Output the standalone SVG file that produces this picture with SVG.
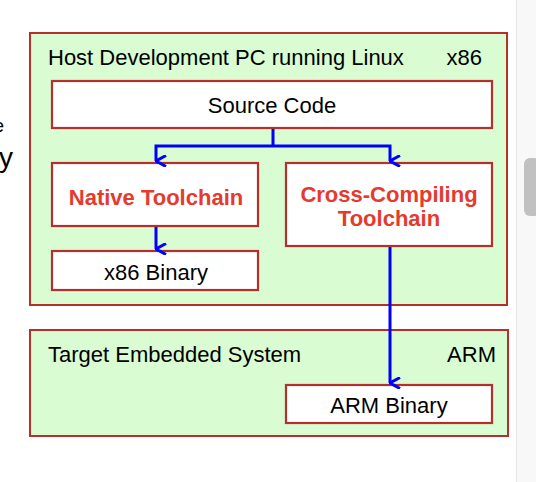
<svg xmlns="http://www.w3.org/2000/svg" width="536" height="482" viewBox="0 0 536 482">
<defs>
<style>
.grp{fill:#d9fcd2;stroke:#b5302a;stroke-width:2}
.box{fill:#ffffff;stroke:#b5302a;stroke-width:2.2}
.t{font-family:"Liberation Sans",Arial,sans-serif;font-size:22px;fill:#000}
.r{font-family:"Liberation Sans",Arial,sans-serif;font-size:22px;font-weight:bold;fill:#e53a2e}
.c{fill:none;stroke:#0000ff;stroke-width:3}
</style>
<marker id="ah" viewBox="0 0 12 12" refX="6" refY="11" markerWidth="12" markerHeight="12" markerUnits="userSpaceOnUse" orient="auto-start-reverse">
<path d="M0.5,1 L6,11 L11.5,1" fill="none" stroke="#0000ff" stroke-width="3"/>
</marker>
</defs>
<rect x="0" y="0" width="536" height="482" fill="#ffffff"/>
<g id="page-scrollbar">
<rect x="516.5" y="0" width="20" height="482" fill="#f8f8f8"/>
<line x1="516.5" y1="0" x2="516.5" y2="482" stroke="#e6e6e6" stroke-width="1"/>
<rect x="524" y="158" width="16" height="58" rx="6" fill="#c1c1c1"/>
</g>
<g id="left-text">
<text class="t" x="-6.5" y="132" style="font-size:19px">e</text>
<text class="t" x="-1" y="167" style="font-size:28px">y</text>
</g>
<g id="host">
<rect class="grp" x="30" y="33" width="477" height="272"/>
<text class="t" x="48" y="65">Host Development PC running Linux</text>
<text class="t" x="482" y="65" text-anchor="end">x86</text>
</g>
<g id="target">
<rect class="grp" x="30" y="330" width="478" height="106"/>
<text class="t" x="48" y="362">Target Embedded System</text>
<text class="t" x="496" y="362" text-anchor="end">ARM</text>
</g>
<g id="source-code">
<rect class="box" x="52" y="81" width="440" height="47"/>
<text class="t" x="272" y="113" text-anchor="middle">Source Code</text>
</g>
<g id="native-toolchain">
<rect class="box" x="52" y="163" width="206" height="63"/>
<text class="r" x="156" y="205" text-anchor="middle">Native Toolchain</text>
</g>
<g id="x86-binary">
<rect class="box" x="52" y="251" width="206" height="39"/>
<text class="t" x="156" y="280" text-anchor="middle">x86 Binary</text>
</g>
<g id="cross-toolchain">
<rect class="box" x="286" y="163" width="206" height="83"/>
<text class="r" x="389" y="202" text-anchor="middle">Cross-Compiling</text>
<text class="r" x="389" y="226" text-anchor="middle">Toolchain</text>
</g>
<g id="arm-binary">
<rect class="box" x="286" y="385" width="206" height="38"/>
<text class="t" x="389" y="413" text-anchor="middle">ARM Binary</text>
</g>
<g id="connectors">
<polyline class="c" points="273,129 273,146"/>
<polyline class="c" points="273,146 156,146 156,161" marker-end="url(#ah)"/>
<polyline class="c" points="273,146 390,146 390,161" marker-end="url(#ah)"/>
<polyline class="c" points="156,227 156,249" marker-end="url(#ah)"/>
<polyline class="c" points="390,247 390,383" marker-end="url(#ah)"/>
</g>
</svg>
